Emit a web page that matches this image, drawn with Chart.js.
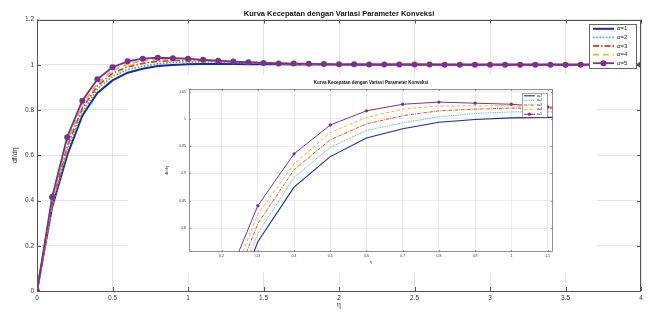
<!DOCTYPE html>
<html>
<head>
<meta charset="utf-8">
<script src="https://cdn.jsdelivr.net/npm/chart.js@4"></script>
<style>
  html, body { margin: 0; padding: 0; background: #fff; }
  #wrap { position: relative; width: 648px; height: 316px; }
  #mainChart { position: absolute; left: 0; top: 0; }
  #insetBox { position: absolute; left: 128px; top: 75px; width: 469px; height: 197px; background: #fff; }
</style>
</head>
<body>
<div id="wrap">
  <canvas id="mainChart" width="648" height="316"></canvas>
  <div id="insetBox"><canvas id="insetChart" width="469" height="197"></canvas></div>
</div>
<script>
// ===== DATA =====
const TITLE = 'Kurva Kecepatan dengan Variasi Parameter Konveksi';
const LABELS = ['\u03b1=1', '\u03b1=2', '\u03b1=3', '\u03b1=4', '\u03b1=5'];

const ETA = [0, 0.1, 0.2, 0.3, 0.4, 0.5, 0.6, 0.7, 0.8, 0.9, 1.0,
  1.1, 1.2, 1.3, 1.4, 1.5, 1.6, 1.7, 1.8, 1.9, 2.0,
  2.1, 2.2, 2.3, 2.4, 2.5, 2.6, 2.7, 2.8, 2.9, 3.0,
  3.1, 3.2, 3.3, 3.4, 3.5, 3.6, 3.7, 3.8, 3.9, 4.0];

const A1 = [0, 0.37, 0.60, 0.775, 0.875, 0.931, 0.965, 0.982, 0.994, 0.999, 1.002,
  1.003, 1.003, 1.003, 1.002, 1.002, 1.002, 1.001, 1.001, 1.001, 1.001,
  1, 1, 1, 1, 1, 1, 1, 1, 1, 1, 1, 1, 1, 1, 1, 1, 1, 1, 1, 1];
const A2 = [0, 0.38, 0.62, 0.79, 0.893, 0.948, 0.979, 0.993, 1.004, 1.010, 1.013,
  1.013, 1.012, 1.010, 1.008, 1.006, 1.005, 1.004, 1.003, 1.002, 1.002,
  1.001, 1.001, 1.001, 1.001, 1, 1, 1, 1, 1, 1, 1, 1, 1, 1, 1, 1, 1, 1, 1, 1];
const A3 = [0, 0.39, 0.64, 0.808, 0.907, 0.962, 0.991, 1.006, 1.015, 1.018, 1.020,
  1.019, 1.016, 1.013, 1.010, 1.008, 1.006, 1.005, 1.004, 1.003, 1.002,
  1.002, 1.001, 1.001, 1.001, 1.001, 1, 1, 1, 1, 1, 1, 1, 1, 1, 1, 1, 1, 1, 1, 1];
const A4 = [0, 0.40, 0.66, 0.825, 0.918, 0.975, 1.003, 1.018, 1.024, 1.024, 1.024,
  1.020, 1.017, 1.014, 1.011, 1.009, 1.007, 1.005, 1.004, 1.003, 1.003,
  1.002, 1.002, 1.001, 1.001, 1.001, 1.001, 1, 1, 1, 1, 1, 1, 1, 1, 1, 1, 1, 1, 1, 1];
const A5 = [0, 0.415, 0.68, 0.841, 0.936, 0.989, 1.015, 1.027, 1.031, 1.029, 1.027,
  1.022, 1.018, 1.014, 1.011, 1.008, 1.006, 1.005, 1.004, 1.003, 1.002,
  1.002, 1.001, 1.001, 1.001, 1.001, 1.001, 1, 1, 1, 1, 1, 1, 1, 1, 1, 1, 1, 1, 1, 1];

const X_TICKS = [0, 0.5, 1, 1.5, 2, 2.5, 3, 3.5, 4];
const Y_TICKS = [0, 0.2, 0.4, 0.6, 0.8, 1, 1.2];
const X_TICKS_IN = [0.2, 0.3, 0.4, 0.5, 0.6, 0.7, 0.8, 0.9, 1, 1.1];
const Y_TICKS_IN = [0.8, 0.85, 0.9, 0.95, 1, 1.05];

const SERIES = [A1, A2, A3, A4, A5];
const COLORS = ['#1c2a96', '#3fb0c9', '#d4502a', '#e9b632', '#7d2f8f'];
const FONT = "'Liberation Sans', Arial, sans-serif";

// ===== HELPERS =====
function makeDatasets(k) {
  // k = 1 for main axes, ~0.5 for the inset
  const dashes = [[], [1.6 * k, 1.6 * k], [6 * k, 2 * k, 1.5 * k, 2 * k], [6 * k, 4 * k], []];
  const widths = [2, 1.8, 1.8, 1.8, 1.8];
  return SERIES.map((vals, i) => ({
    label: LABELS[i],
    data: ETA.map((e, j) => ({ x: e, y: vals[j] })),
    borderColor: COLORS[i],
    backgroundColor: COLORS[i],
    borderWidth: widths[i] * k,
    borderDash: dashes[i],
    pointRadius: i === 4 ? 3 * k : 0,
    pointBorderWidth: 0,
    pointBackgroundColor: COLORS[i],
    tension: 0,
    order: 4 - i
  }));
}

// box around axes + inward tick marks, MATLAB style
const boxPlugin = {
  id: 'matBox',
  afterDatasetsDraw(chart, args, o) {
    const { ctx, chartArea: a, scales: { x, y } } = chart;
    ctx.save();
    ctx.strokeStyle = o.color;
    ctx.lineWidth = o.width;
    ctx.beginPath();
    x.ticks.forEach(t => {
      const px = Math.round(x.getPixelForValue(t.value)) + 0.5;
      ctx.moveTo(px, a.bottom); ctx.lineTo(px, a.bottom - o.tick);
      ctx.moveTo(px, a.top); ctx.lineTo(px, a.top + o.tick);
    });
    y.ticks.forEach(t => {
      const py = Math.round(y.getPixelForValue(t.value)) + 0.5;
      ctx.moveTo(a.left, py); ctx.lineTo(a.left + o.tick, py);
      ctx.moveTo(a.right, py); ctx.lineTo(a.right - o.tick, py);
    });
    ctx.stroke();
    ctx.strokeRect(Math.round(a.left) + 0.5, Math.round(a.top) + 0.5,
      Math.round(a.width) - 1, Math.round(a.height) - 1);
    // title centred over the axes
    ctx.fillStyle = '#111';
    ctx.font = 'bold ' + o.titleSize + 'px ' + FONT;
    ctx.textAlign = 'center';
    ctx.textBaseline = 'middle';
    ctx.fillText(TITLE, (a.left + a.right) / 2, o.titleY);
    ctx.restore();
  }
};

// boxed legend at a fixed spot
const legendPlugin = {
  id: 'boxLegend',
  afterDraw(chart, args, o) {
    const ctx = chart.ctx;
    ctx.save();
    ctx.fillStyle = '#fff';
    ctx.fillRect(o.x, o.y, o.w, o.h);
    ctx.strokeStyle = '#666';
    ctx.lineWidth = o.lw;
    ctx.strokeRect(o.x + 0.5, o.y + 0.5, o.w, o.h);
    chart.data.datasets.forEach((ds, i) => {
      const cy = o.y + o.pad + o.row * (i + 0.5);
      ctx.strokeStyle = ds.borderColor;
      ctx.lineWidth = ds.borderWidth;
      ctx.setLineDash(ds.borderDash);
      ctx.beginPath();
      ctx.moveTo(o.x + o.l0, cy);
      ctx.lineTo(o.x + o.l1, cy);
      ctx.stroke();
      ctx.setLineDash([]);
      if (ds.pointRadius > 0) {
        ctx.fillStyle = ds.pointBackgroundColor;
        ctx.beginPath();
        ctx.arc(o.x + (o.l0 + o.l1) / 2, cy, ds.pointRadius, 0, Math.PI * 2);
        ctx.fill();
      }
      ctx.fillStyle = '#222';
      ctx.font = o.size + 'px ' + FONT;
      ctx.textAlign = 'left';
      ctx.textBaseline = 'middle';
      ctx.fillText(ds.label, o.x + o.tx, cy);
    });
    ctx.restore();
  }
};

function axisOpts(min, max, ticks, size, title, cfg) {
  return {
    type: 'linear', min: min, max: max,
    afterBuildTicks: s => { s.ticks = ticks.map(v => ({ value: v })); },
    afterFit: cfg.fit,
    grid: { color: '#e4e4e4', lineWidth: cfg.gw, drawTicks: false },
    border: { display: false },
    ticks: { color: '#333', padding: cfg.pad, font: { family: FONT, size: size }, callback: v => String(v), maxRotation: 0, autoSkip: false },
    title: { display: true, text: title, color: '#333', font: { family: FONT, size: cfg.tsize }, padding: cfg.tpad }
  };
}

// ===== MAIN CHART =====
new Chart(document.getElementById('mainChart'), {
  type: 'line',
  data: { datasets: makeDatasets(1) },
  options: {
    responsive: false, animation: false,
    layout: { padding: { top: 19.5, right: 7, left: 0, bottom: 0 } },
    plugins: {
      legend: { display: false }, tooltip: { enabled: false }, title: { display: false },
      matBox: { color: '#555', width: 1, tick: 4, titleSize: 7.5, titleY: 14 },
      boxLegend: { x: 589, y: 24, w: 47, h: 44, pad: 0.5, row: 8.6, l0: 4, l1: 25, tx: 28, size: 6, lw: 1 }
    },
    scales: {
      x: axisOpts(0, 4, X_TICKS, 6.5, '\u03b7', { fit: s => { s.height = 25; }, gw: 1, pad: 3, tsize: 7, tpad: { top: 0, bottom: 6.8 } }),
      y: axisOpts(0, 1.2, Y_TICKS, 6.5, 'df/d\u03b7', { fit: s => { s.width = 37; }, gw: 1, pad: 3, tsize: 7, tpad: { top: 10.8, bottom: 0 } })
    }
  },
  plugins: [boxPlugin, legendPlugin]
});

// ===== INSET CHART =====
new Chart(document.getElementById('insetChart'), {
  type: 'line',
  data: { datasets: makeDatasets(0.55) },
  options: {
    responsive: false, animation: false,
    layout: { padding: { top: 14, right: 44, left: 30, bottom: 0 } },
    plugins: {
      legend: { display: false }, tooltip: { enabled: false }, title: { display: false },
      matBox: { color: '#777', width: 0.8, tick: 2, titleSize: 4.5, titleY: 8 },
      boxLegend: { x: 394, y: 18, w: 25, h: 24, pad: 0.5, row: 4.6, l0: 2, l1: 13, tx: 15, size: 3, lw: 0.6 }
    },
    scales: {
      x: axisOpts(0.11, 1.115, X_TICKS_IN, 3.5, '\u03b7', { fit: s => { s.height = 20; }, gw: 0.7, pad: 2, tsize: 4, tpad: { top: 0, bottom: 7.6 } }),
      y: axisOpts(0.756, 1.055, Y_TICKS_IN, 3.5, 'df/d\u03b7', { fit: s => { s.width = 31; }, gw: 0.7, pad: 3, tsize: 4, tpad: { top: 6.6, bottom: 0 } })
    }
  },
  plugins: [boxPlugin, legendPlugin]
});
</script>
</body>
</html>
